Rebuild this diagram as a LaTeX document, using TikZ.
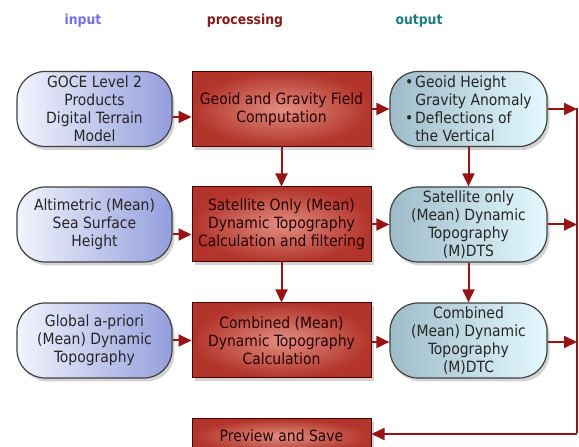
\documentclass[tikz,border=0pt]{standalone}
\usepackage{fontspec}
\setmainfont{DejaVu Sans Condensed}
\usetikzlibrary{arrows.meta,shadows,calc}
\definecolor{inL}{RGB}{242,244,253}
\definecolor{inR}{RGB}{148,158,220}
\definecolor{prIn}{RGB}{226,142,130}
\definecolor{prOut}{RGB}{178,52,42}
\definecolor{outL}{RGB}{158,188,200}
\definecolor{outR}{RGB}{228,249,255}
\definecolor{arrred}{RGB}{150,20,20}
\definecolor{hin}{RGB}{115,110,235}
\definecolor{hpr}{RGB}{135,25,25}
\definecolor{hout}{RGB}{30,125,125}
\begin{document}
\begin{tikzpicture}[x=1pt,y=1pt,
  boxtext/.style={font=\fontsize{15.5}{18}\selectfont, align=center, inner sep=0pt},
  shad/.style={drop shadow={shadow xshift=2.5pt,shadow yshift=-3.5pt,opacity=0.35}},
  inbox/.style={boxtext, shad, draw=black!75, line width=1.2pt, rounded corners=28pt,
    left color=inL, right color=inR, minimum width=155pt, minimum height=75pt, text=black!85},
  prbox/.style={boxtext, shad, draw=black!70!red, line width=1pt,
    inner color=prIn, outer color=prOut, minimum width=179pt, minimum height=75pt, text=black!85!red},
  outbox/.style={boxtext, shad, draw=black!75, line width=1.2pt, rounded corners=28pt,
    left color=outL, right color=outR, minimum width=157pt, minimum height=75pt, text=black!85},
  head/.style={font=\fontsize{13.8}{16}\selectfont\bfseries, inner sep=0pt},
  arr/.style={draw=arrred, line width=2pt, -{Triangle[length=13pt,width=12pt]}},
  plainline/.style={draw=arrred, line width=2pt}
]
\useasboundingbox (0,0) rectangle (579,447);

% headers
\node[head, text=hin] (hIn) at (83,426) {input};
\node[head, text=hpr] (hPr) at (245,426) {processing};
\node[head, text=hout] (hOut) at (419,426) {output};

% row 1
\node[inbox] (inA) at (94.5,338) {GOCE Level 2\\Products\\Digital Terrain\\Model};
\node[prbox] (prA) at (281.5,338) {Geoid and Gravity Field\\Computation};
\node[outbox, align=left] (outA) at (468.5,338) {\makebox[10pt][l]{•}Geoid Height\\\hspace*{10pt}Gravity Anomaly\\\makebox[10pt][l]{•}Deflections of\\\hspace*{10pt}the Vertical};

% row 2
\node[inbox] (inB) at (94.5,222.5) {Altimetric (Mean)\\Sea Surface\\Height};
\node[prbox] (prB) at (281.5,222.5) {Satellite Only (Mean)\\Dynamic Topography\\Calculation and filtering};
\node[outbox] (outB) at (468.5,222.5) {Satellite only\\(Mean) Dynamic\\Topography\\(M)DTS};

% row 3
\node[inbox] (inC) at (94.5,106.5) {Global a-priori\\(Mean) Dynamic\\Topography};
\node[prbox] (prC) at (281.5,106.5) {Combined (Mean)\\Dynamic Topography\\Calculation};
\node[outbox] (outC) at (468.5,106.5) {Combined\\(Mean) Dynamic\\Topography\\(M)DTC};

% preview
\node[prbox, minimum height=34pt] (prev) at (281.5,11) {Preview and Save};

% right collector line
\coordinate (r1) at (577,338);
\coordinate (r2) at (577,222.5);
\coordinate (r3) at (577,105);
\coordinate (rb) at (577,14);

% arrows
\draw[arr] ([yshift=-8pt]inA.east) -- ([yshift=-8pt]prA.west);
\draw[arr] (prA.east) -- (outA.west);
\draw[arr] (prA.south) -- (prB.north);
\draw[arr] (outA.south) -- (outB.north);
\draw[arr] (outA.east) -- (r1);

\draw[arr] ([yshift=-10pt]inB.east) -- ([yshift=-10pt]prB.west);
\draw[arr] (prB.east) -- (outB.west);
\draw[arr] (prB.south) -- (prC.north);
\draw[arr] (outB.south) -- (outC.north);
\draw[arr] (outB.east) -- (r2);

\draw[arr] (inC.east) -- (prC.west);
\draw[arr] ([yshift=-1.5pt]prC.east) -- ([yshift=-1.5pt]outC.west);
\draw[arr] ([yshift=-1.5pt]outC.east) -- (r3);

\draw[plainline] ([yshift=1pt]r1) -- (rb);
\draw[arr] ([yshift=-1pt]rb) -- ([yshift=-1pt]prev.east |- rb);
\end{tikzpicture}
\end{document}
